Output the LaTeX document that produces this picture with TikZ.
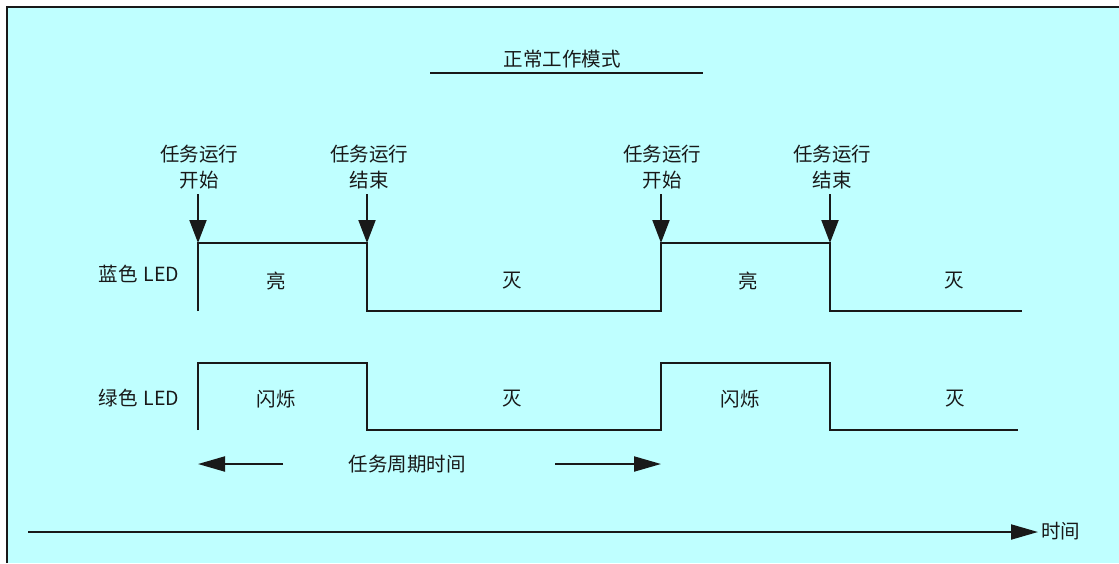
\documentclass[tikz,border=0pt]{standalone}
\usepackage{fontspec}
\setmainfont{Noto Sans CJK SC}
\usetikzlibrary{arrows.meta}
\definecolor{bgc}{RGB}{191,255,255}
\definecolor{ink}{RGB}{25,25,25}
\tikzset{
  wave/.style={draw=ink, line width=2pt, line join=miter},
  downtip/.style={draw=ink, line width=2pt, -{Triangle[length=23pt,width=17pt]}},
  hortip/.style={draw=ink, line width=2pt, -{Triangle[length=27pt,width=15pt]}},
  lbl/.style={text=ink, inner sep=2pt},
  ev/.style={text=ink, align=center, inner sep=2pt, font=\fontsize{19.5}{26}\selectfont},
}
\begin{document}
\begin{tikzpicture}[x=1pt,y=-1pt, font=\fontsize{19.5}{22}\selectfont]
\useasboundingbox (0,0) rectangle (1119,563);
\fill[white] (0,0) rectangle (1119,563);
\fill[bgc] (7,7) rectangle (1119,563);
\draw[ink, line width=2pt] (7,563) -- (7,7) -- (1119,7);

% title
\node[lbl] (title) at (562,59) {正常工作模式};
\coordinate (ul1) at (430,73);
\coordinate (ul2) at (703,73);
\draw[ink, line width=2pt] (ul1) -- (ul2);

% event labels
\node[ev] (e1) at (199,167) {任务运行\\开始};
\node[ev] (e2) at (369,167) {任务运行\\结束};
\node[ev] (e3) at (662,167) {任务运行\\开始};
\node[ev] (e4) at (832,167) {任务运行\\结束};
\coordinate (a1) at (198,243);
\coordinate (a2) at (367,243);
\coordinate (a3) at (661,243);
\coordinate (a4) at (830,243);
\coordinate (s1) at (198,194);
\coordinate (s2) at (367,194);
\coordinate (s3) at (661,194);
\coordinate (s4) at (830,194);
\draw[downtip] (s1) -- (a1);
\draw[downtip] (s2) -- (a2);
\draw[downtip] (s3) -- (a3);
\draw[downtip] (s4) -- (a4);

% blue LED
\node[lbl] (blue) at (139,274) {蓝色\hspace{0.3em}LED};
\draw[wave] (198,311) -- (a1) -- (a2) -- (367,311) -- (661,311) -- (a3) -- (a4) -- (830,311) -- (1022,311);
\node[lbl] (b1) at (276,281) {亮};
\node[lbl] (b2) at (512,281) {灭};
\node[lbl] (b3) at (748,281) {亮};
\node[lbl] (b4) at (954,281) {灭};

% green LED
\node[lbl] (green) at (139,398) {绿色\hspace{0.3em}LED};
\draw[wave] (198,430) -- (198,363) -- (367,363) -- (367,430) -- (661,430) -- (661,363) -- (830,363) -- (830,430) -- (1018,430);
\node[lbl] (g1) at (276,399) {闪烁};
\node[lbl] (g2) at (512,399) {灭};
\node[lbl] (g3) at (740,399) {闪烁};
\node[lbl] (g4) at (955,399) {灭};

% period
\node[lbl] (per) at (407,464) {任务周期时间};
\coordinate (pl0) at (283,464);
\coordinate (pl1) at (198,464);
\coordinate (pr0) at (555,464);
\coordinate (pr1) at (661,464);
\draw[hortip] (pl0) -- (pl1);
\draw[hortip] (pr0) -- (pr1);

% time axis
\coordinate (t0) at (28,532);
\node[lbl, anchor=west, inner sep=0pt] (tl) at (1041,531) {时间};
\coordinate (t1) at (1038,532);
\draw[hortip] (t0) -- (t1);
\end{tikzpicture}
\end{document}
